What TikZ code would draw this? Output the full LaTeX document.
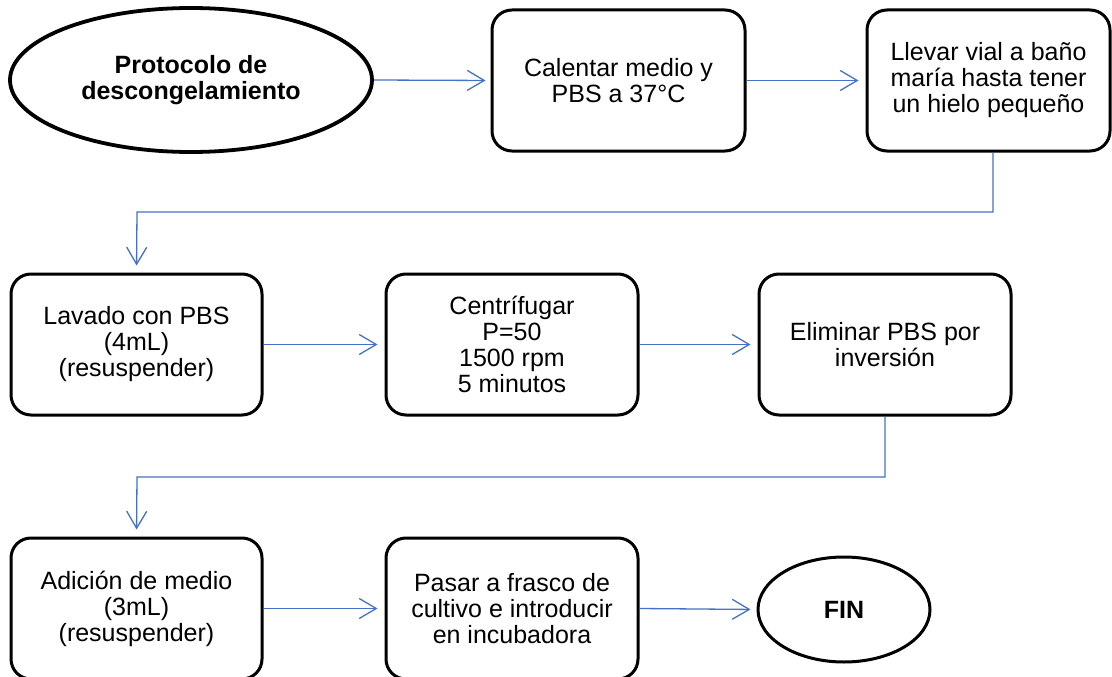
\documentclass[tikz,border=0pt]{standalone}
\usepackage{fontspec}
\setmainfont{Liberation Sans}
\usetikzlibrary{shapes.geometric,arrows.meta}
\definecolor{flow}{HTML}{4472C4}
\begin{document}
\begin{tikzpicture}[x=1pt,y=-1pt,
  box/.style={draw, line width=3pt, rounded corners=20pt, inner sep=0pt, minimum height=141pt, align=center, font=\fontsize{25}{26}\selectfont},
  oval/.style={draw, ellipse, inner sep=0pt, align=center, font=\fontsize{25}{26}\selectfont\bfseries},
  flowarrow/.style={draw=flow, line width=1.3pt, -{Straight Barb[length=17pt,width=20pt]}, shorten >=7pt}]
\useasboundingbox (0,0) rectangle (1112,677);
% row 1
\node[oval, line width=3.8pt, minimum width=362pt, minimum height=144pt] (start) at (191,80) {Protocolo de\\descongelamiento};
\node[box, minimum width=253pt] (calentar) at (618.5,80.5) {Calentar medio y\\PBS a 37°C};
\node[box, minimum width=243pt] (llevar) at (988.5,80.5) {Llevar vial a baño\\maría hasta tener\\un hielo pequeño};
% row 2
\node[box, minimum width=251pt] (lavado) at (136.5,344.5) {Lavado con PBS\\(4mL)\\(resuspender)};
\node[box, minimum width=252pt] (centrifugar) at (512,344.5) {Centrífugar\\P=50\\1500 rpm\\5 minutos};
\node[box, minimum width=252pt] (eliminar) at (885,344.5) {Eliminar PBS por\\inversión};
% row 3
\node[box, minimum width=251pt] (adicion) at (136.5,608.5) {Adición de medio\\(3mL)\\(resuspender)};
\node[box, minimum width=252pt] (pasar) at (512,608.5) {Pasar a frasco de\\cultivo e introducir\\en incubadora};
\node[oval, line width=3pt, minimum width=172pt, minimum height=105pt] (fin) at (844,609.5) {FIN};
% bend points
\coordinate (b1) at (993,212);
\coordinate (b2) at (137,212);
\coordinate (c1) at (885,477);
\coordinate (c2) at (137,477);
% connectors
\draw[flowarrow, shorten >=5pt] (start.east) -- (calentar.west);
\draw[flowarrow] (calentar.east) -- (llevar.west);
\draw[flowarrow] (llevar.south -| b1) -- (b1) -- (b2) -- (lavado.north);
\draw[flowarrow] (lavado.east) -- (centrifugar.west);
\draw[flowarrow] (centrifugar.east) -- (eliminar.west);
\draw[flowarrow] (eliminar.south) -- (c1) -- (c2) -- (adicion.north);
\draw[flowarrow] (adicion.east) -- (pasar.west);
\draw[flowarrow, shorten >=6pt] (pasar.east) -- (fin.west);
\end{tikzpicture}
\end{document}
